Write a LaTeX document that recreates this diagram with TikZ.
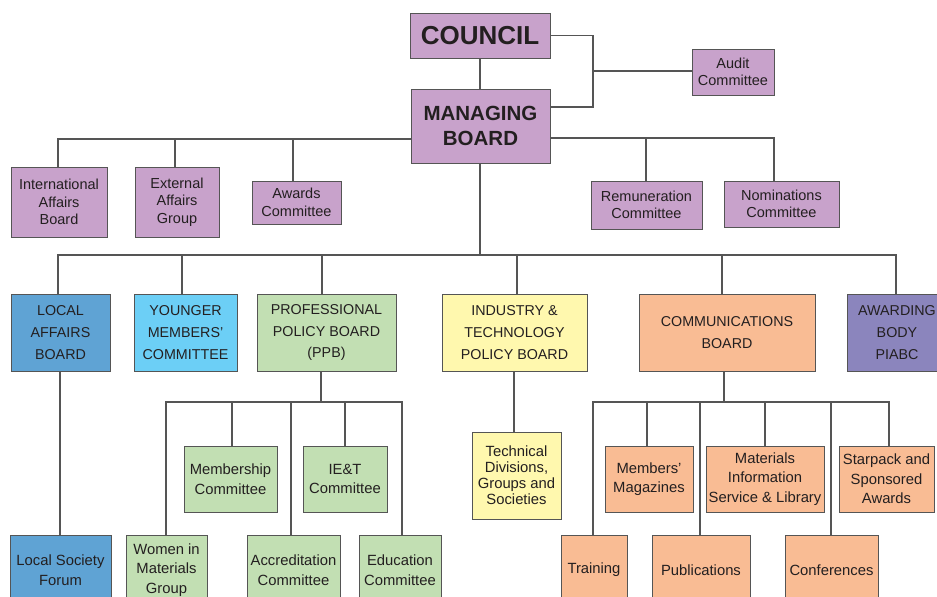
\documentclass[tikz,border=0pt]{standalone}
\usepackage{fontspec}
\setmainfont{Liberation Sans}
\definecolor{purp}{HTML}{C8A2CB}
\definecolor{labc}{HTML}{5FA3D4}
\definecolor{ymcc}{HTML}{6CCFF6}
\definecolor{grn}{HTML}{C2DFB3}
\definecolor{yel}{HTML}{FFF8AE}
\definecolor{pch}{HTML}{F9BC94}
\definecolor{awd}{HTML}{8B85BD}
\definecolor{lin}{HTML}{555555}
\definecolor{txt}{HTML}{231F20}
\begin{document}
\begin{tikzpicture}[x=1pt,y=-1pt,
  box/.style={draw=lin, line width=1pt, align=center, inner sep=0pt, text=txt},
  wh/.style 2 args={minimum width=#1pt, minimum height=#2pt},
  topf/.style={font=\fontsize{14.5}{17.5}\selectfont},
  rowf/.style={font=\fontsize{14.3}{21.7}\selectfont},
  botf/.style={font=\fontsize{14.8}{19.5}\selectfont},
  conn/.style={draw=lin, line width=1.1pt}]
\useasboundingbox (0,0) rectangle (937,597);
\clip (0,0) rectangle (937,597);
% top
\node[box,fill=purp,wh={140}{45},font=\fontsize{26}{30}\selectfont\bfseries] (council) at (480,35.5) {COUNCIL};
\node[box,fill=purp,wh={139}{74},font=\fontsize{20.5}{24.5}\selectfont\bfseries] (mb) at (480.5,126) {MANAGING\\BOARD};
\node[box,fill=purp,wh={82}{46},topf] (audit) at (733,72) {Audit\\Committee};
\node[box,fill=purp,wh={96}{70},topf] (iab) at (59,202) {International\\Affairs\\Board};
\node[box,fill=purp,wh={84}{70},topf] (eag) at (177,202) {External\\Affairs\\Group};
\node[box,fill=purp,wh={89}{43},topf] (awc) at (296.5,202.5) {Awards\\Committee};
\node[box,fill=purp,wh={111}{48},topf] (rem) at (646.5,205) {Remuneration\\Committee};
\node[box,fill=purp,wh={115}{46},topf] (nom) at (781.5,204) {Nominations\\Committee};
% row 2
\node[box,fill=labc,wh={99}{77},rowf] (lab) at (60.5,332.5) {LOCAL\\AFFAIRS\\BOARD};
\node[box,fill=ymcc,wh={103}{77},rowf] (ymc) at (185.5,332.5) {YOUNGER\\MEMBERS’\\COMMITTEE};
\node[box,fill=grn,wh={139}{77},rowf] (ppb) at (326.5,332.5) {PROFESSIONAL\\POLICY BOARD\\(PPB)};
\node[box,fill=yel,wh={145}{77},rowf] (itpb) at (514.5,332.5) {INDUSTRY \&\\TECHNOLOGY\\POLICY BOARD};
\node[box,fill=pch,wh={176}{77},rowf] (cb) at (727,332.5) {COMMUNICATIONS\\BOARD};
\node[box,fill=awd,wh={100}{77},rowf] (awb) at (897,332.5) {AWARDING\\BODY\\PIABC};
% lower
\node[box,fill=labc,wh={101}{70},botf] (lsf) at (60.5,570) {Local Society\\Forum};
\node[box,fill=grn,wh={93}{66},botf] (mem) at (230.5,479) {Membership\\Committee};
\node[box,fill=grn,wh={84}{66},botf] (iet) at (345,479) {IE\&T\\Committee};
\node[box,fill=grn,wh={81}{70},botf] (wim) at (166.5,570) {Women in\\Materials\\Group};
\node[box,fill=grn,wh={93}{70},botf] (acc) at (293.5,570) {Accreditation\\Committee};
\node[box,fill=grn,wh={82}{70},botf] (edu) at (400,570) {Education\\Committee};
\node[box,fill=yel,wh={89}{87},font=\fontsize{14.8}{16}\selectfont] (tech) at (516.5,475.5) {Technical\\Divisions,\\Groups and\\Societies};
\node[box,fill=pch,wh={88}{66},botf] (mm) at (649,479) {Members’\\Magazines};
\node[box,fill=pch,wh={118}{66},botf] (mis) at (765,479) {Materials\\Information\\Service \& Library};
\node[box,fill=pch,wh={95}{66},botf] (stp) at (886.5,479) {Starpack and\\Sponsored\\Awards};
\node[box,fill=pch,wh={66}{70},botf] (trn) at (594,570) {Training};
\node[box,fill=pch,wh={98}{70},botf] (pub) at (701,570) {Publications};
\node[box,fill=pch,wh={93}{70},botf] (con) at (831.5,570) {Conferences};
% connectors top
\coordinate (auj) at (593,71);
\draw[conn] (council.south) -- (council.south |- mb.north);
\draw[conn] (council.east) -| (auj) |- (mb.east |- 0,107);
\draw[conn] (auj) -- (audit.west |- auj);
\draw[conn] (mb.west |- 0,139) -| ([xshift=-1pt]iab.north);
\draw[conn] ([xshift=-2pt]eag.north) -- ([xshift=-2pt]eag.north |- 0,139);
\draw[conn] ([xshift=-3.5pt]awc.north) -- ([xshift=-3.5pt]awc.north |- 0,139);
\draw[conn] (mb.east |- 0,138) -| ([xshift=-7.5pt]nom.north);
\draw[conn] ([xshift=-0.5pt]rem.north) -- ([xshift=-0.5pt]rem.north |- 0,138);
% main bus
\coordinate (mainL) at (58,255);
\draw[conn] ([xshift=-0.5pt]mb.south) -- ([xshift=-0.5pt]mb.south |- mainL);
\draw[conn] ([xshift=-2.5pt]lab.north) |- ([xshift=-1pt]awb.north |- mainL) -- ([xshift=-1pt]awb.north);
\draw[conn] ([xshift=-3.5pt]ymc.north) -- ([xshift=-3.5pt]ymc.north |- mainL);
\draw[conn] ([xshift=-4.5pt]ppb.north) -- ([xshift=-4.5pt]ppb.north |- mainL);
\draw[conn] ([xshift=2.5pt]itpb.north) -- ([xshift=2.5pt]itpb.north |- mainL);
\draw[conn] ([xshift=-5pt]cb.north) -- ([xshift=-5pt]cb.north |- mainL);
% local
\draw[conn] ([xshift=-0.5pt]lab.south) -- ([xshift=-0.5pt]lab.south |- lsf.north);
% PPB
\coordinate (ppbj) at (321,402);
\draw[conn] (ppbj |- ppb.south) -- (ppbj);
\draw[conn] ([xshift=-0.5pt]wim.north) |- ([xshift=2pt]edu.north |- ppbj) -- ([xshift=2pt]edu.north);
\draw[conn] ([xshift=1.5pt]mem.north) -- ([xshift=1.5pt]mem.north |- ppbj);
\draw[conn] (iet.north) -- (iet.north |- ppbj);
\draw[conn] ([xshift=-2.5pt]acc.north) -- ([xshift=-2.5pt]acc.north |- ppbj);
% ITPB
\draw[conn] ([xshift=-0.5pt]itpb.south) -- ([xshift=-0.5pt]itpb.south |- tech.north);
% CB
\coordinate (cbj) at (724,402);
\draw[conn] (cbj |- cb.south) -- (cbj);
\draw[conn] ([xshift=-1pt]trn.north) |- ([xshift=2.5pt]stp.north |- cbj) -- ([xshift=2.5pt]stp.north);
\draw[conn] ([xshift=-2pt]mm.north) -- ([xshift=-2pt]mm.north |- cbj);
\draw[conn] (mis.north) -- (mis.north |- cbj);
\draw[conn] ([xshift=-1pt]pub.north) -- ([xshift=-1pt]pub.north |- cbj);
\draw[conn] ([xshift=-0.5pt]con.north) -- ([xshift=-0.5pt]con.north |- cbj);
\end{tikzpicture}
\end{document}
